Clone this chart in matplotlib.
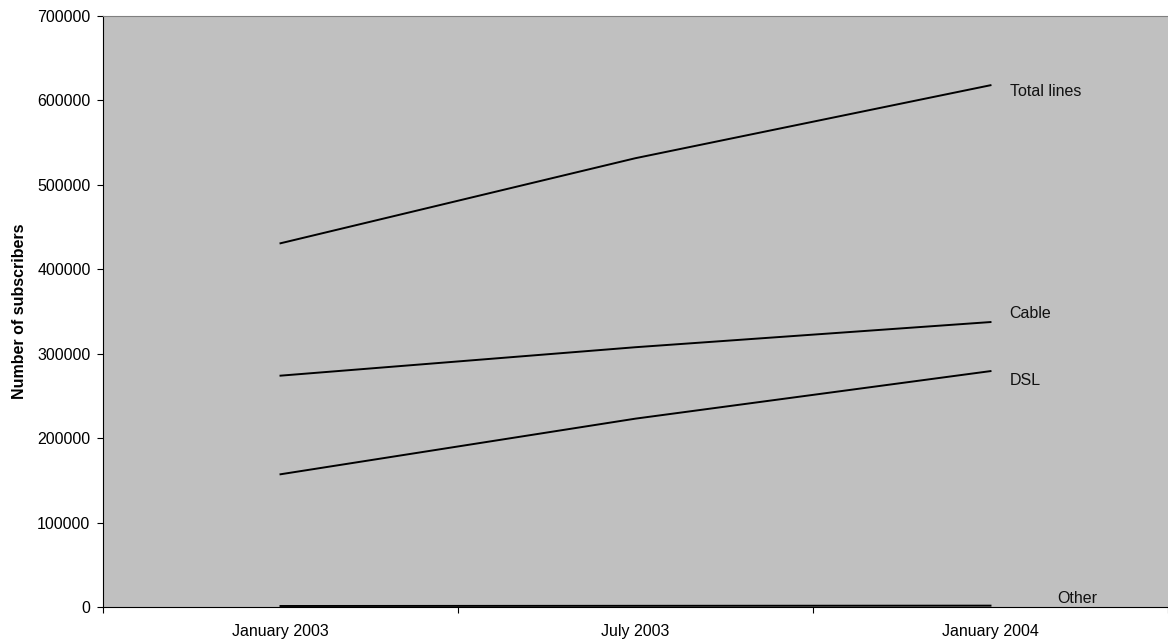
import matplotlib.pyplot as plt
from matplotlib.ticker import FixedLocator

plt.rcParams['font.family'] = ['Liberation Sans', 'DejaVu Sans']

periods = ['January 2003', 'July 2003', 'January 2004']
total_lines = [430800, 531600, 618000]
cable = [274000, 307700, 337500]
dsl = [157200, 223100, 279400]
other = [1200, 1400, 1600]

series = [
    ('Total lines', total_lines, (19, -6)),
    ('Cable', cable, (19, 9)),
    ('DSL', dsl, (19, -9)),
    ('Other', other, (67, 7)),
]

fs = 11.5

fig = plt.figure(figsize=(11.68, 6.41), dpi=100)
ax = fig.add_axes([103 / 1168, 34 / 641, 1 - 103 / 1168, 591 / 641])
ax.set_facecolor('#c0c0c0')

x = list(range(len(periods)))
for name, vals, off in series:
    ax.plot(x, vals, color='black', lw=1.4)
    ax.annotate(name, (x[-1], vals[-1]), xytext=off, textcoords='offset pixels',
                va='center', ha='left', fontsize=fs, color='#111111')

ax.set_xlim(-0.5, len(periods) - 0.5)
ax.set_ylim(0, 700000)
ax.set_yticks(range(0, 700001, 100000))
ax.set_yticklabels([str(v) for v in range(0, 700001, 100000)], fontsize=fs)

# category boundaries carry the tick marks, labels sit in the middle
ax.xaxis.set_major_locator(FixedLocator([-0.5, 0.5, 1.5, 2.5]))
ax.xaxis.set_minor_locator(FixedLocator(x))
ax.set_xticklabels([], minor=False)
ax.set_xticklabels(periods, minor=True, fontsize=fs)
ax.tick_params(axis='x', which='minor', length=0, pad=12)
ax.tick_params(axis='both', which='major', length=4, width=0.8, direction='out')
ax.tick_params(axis='y', pad=5)

ax.set_ylabel('Number of subscribers', fontsize=fs, fontweight='bold', labelpad=7)

ax.spines['right'].set_visible(False)
ax.spines['top'].set_color('#808080')
ax.spines['left'].set_color('black')
ax.spines['bottom'].set_color('black')

fig.savefig('out.png', dpi=100)
